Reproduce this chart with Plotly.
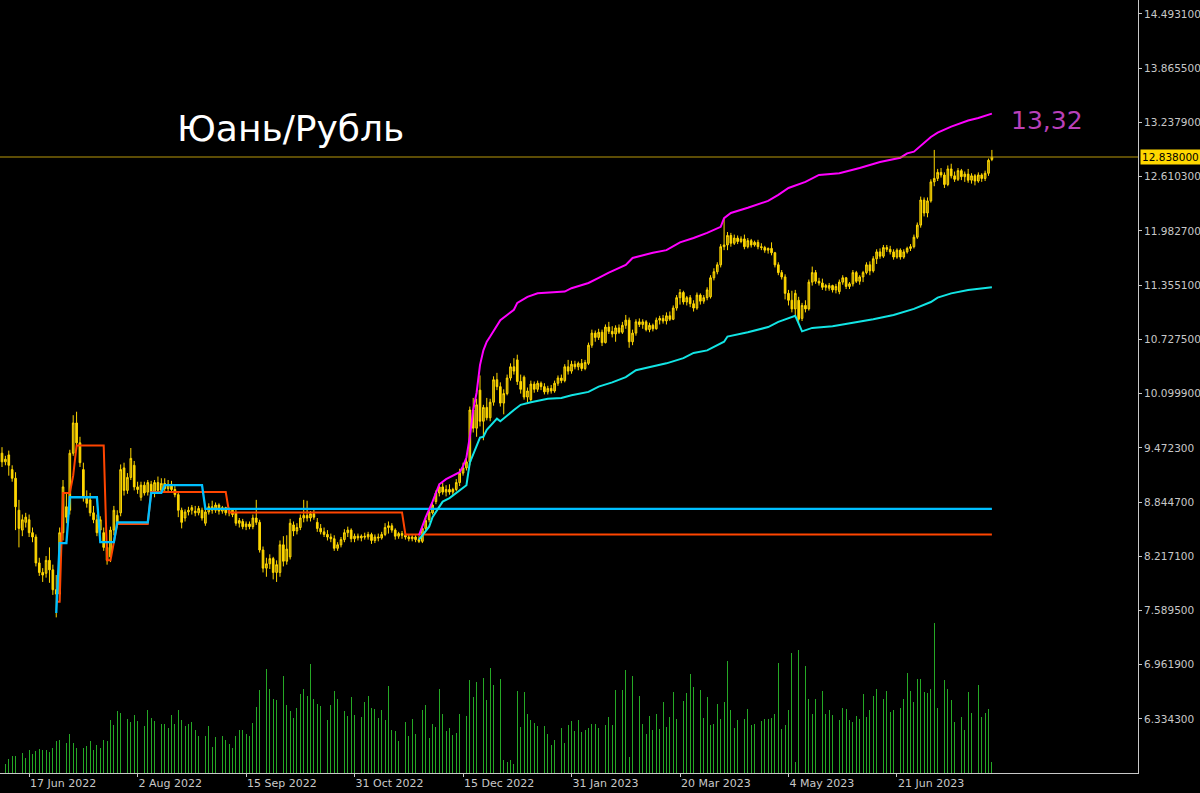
import plotly.graph_objects as go

# ---------------- data (daily CNY/RUB bars) ----------------
opens = [
    9.41, 9.31, 9.39, 9.22, 9.12, 8.75, 8.52, 8.61, 8.64, 8.49,
    8.44, 8.14, 8.03, 8.02, 8.17, 8.06, 7.83, 7.78, 8.49, 8.79,
    8.75, 9.41, 9.76, 9.53, 9.22, 8.90, 8.87, 8.72, 8.64, 8.52,
    8.49, 8.32, 8.21, 8.52, 8.69, 8.72, 9.24, 8.98, 9.13, 9.27,
    9.02, 8.90, 9.04, 8.96, 9.05, 8.95, 9.07, 8.98, 9.06, 9.00,
    9.05, 8.99, 8.93, 8.75, 8.66, 8.73, 8.75, 8.74, 8.72, 8.75,
    8.60, 8.73, 8.79, 8.75, 8.81, 8.74, 8.78, 8.72, 8.75, 8.72,
    8.60, 8.62, 8.56, 8.59, 8.56, 8.66, 8.61, 8.29, 8.08, 8.13,
    8.19, 8.03, 8.03, 8.35, 8.16, 8.21, 8.58, 8.51, 8.55, 8.66,
    8.69, 8.66, 8.71, 8.61, 8.54, 8.50, 8.47, 8.44, 8.42, 8.31,
    8.35, 8.41, 8.49, 8.52, 8.42, 8.45, 8.43, 8.45, 8.44, 8.47,
    8.40, 8.44, 8.43, 8.47, 8.55, 8.57, 8.52, 8.45, 8.48, 8.46,
    8.44, 8.42, 8.44, 8.41, 8.39, 8.54, 8.64, 8.72, 8.85, 8.95,
    9.02, 8.96, 8.99, 8.96, 8.99, 9.07, 9.18, 9.24, 9.31, 9.91,
    9.70, 10.14, 9.78, 9.94, 9.82, 10.00, 10.26, 10.18, 9.99, 10.10,
    10.28, 10.41, 10.49, 10.24, 10.29, 10.06, 10.03, 10.21, 10.15, 10.22,
    10.18, 10.12, 10.16, 10.13, 10.22, 10.28, 10.25, 10.41, 10.36, 10.44,
    10.41, 10.45, 10.39, 10.45, 10.66, 10.80, 10.75, 10.81, 10.69, 10.87,
    10.82, 10.79, 10.86, 10.81, 10.89, 10.95, 10.70, 10.80, 10.93, 10.90,
    10.93, 10.84, 10.89, 10.85, 10.95, 10.97, 10.94, 11.00, 10.96, 11.09,
    11.21, 11.27, 11.16, 11.21, 11.14, 11.09, 11.24, 11.17, 11.21, 11.22,
    11.44, 11.51, 11.59, 11.80, 11.82, 11.93, 11.84, 11.90, 11.86, 11.89,
    11.80, 11.87, 11.82, 11.85, 11.80, 11.79, 11.76, 11.78, 11.73, 11.59,
    11.50, 11.45, 11.26, 11.18, 11.08, 11.18, 10.97, 11.12, 11.08, 11.39,
    11.50, 11.40, 11.38, 11.33, 11.32, 11.35, 11.30, 11.28, 11.39, 11.44,
    11.34, 11.37, 11.50, 11.40, 11.45, 11.50, 11.59, 11.52, 11.66, 11.74,
    11.69, 11.79, 11.77, 11.74, 11.68, 11.76, 11.68, 11.74, 11.78, 11.80,
    11.91, 12.05, 12.34, 12.19, 12.33, 12.55, 12.59, 12.66, 12.63, 12.52,
    12.70, 12.62, 12.58, 12.68, 12.61, 12.64, 12.57, 12.62, 12.56, 12.63,
    12.59, 12.65, 12.81,
]
highs = [
    9.48, 9.38, 9.44, 9.27, 9.19, 8.87, 8.70, 8.72, 8.70, 8.55,
    8.47, 8.20, 8.08, 8.22, 8.32, 8.12, 8.00, 8.55, 9.10, 8.95,
    9.45, 9.85, 9.89, 9.60, 9.30, 8.98, 8.95, 8.80, 8.70, 8.68,
    8.55, 8.38, 8.56, 8.80, 8.75, 9.28, 9.30, 9.18, 9.47, 9.32,
    9.08, 9.08, 9.08, 9.10, 9.09, 9.10, 9.14, 9.12, 9.12, 9.10,
    9.09, 9.03, 8.96, 8.78, 8.76, 8.79, 8.81, 8.80, 8.80, 8.78,
    8.81, 8.83, 8.86, 8.84, 8.83, 8.80, 8.79, 8.78, 8.77, 8.76,
    8.66, 8.65, 8.62, 8.62, 8.70, 8.87, 8.64, 8.33, 8.20, 8.24,
    8.21, 8.17, 8.40, 8.45, 8.46, 8.65, 8.62, 8.60, 8.70, 8.87,
    8.86, 8.74, 8.76, 8.66, 8.59, 8.55, 8.52, 8.48, 8.46, 8.38,
    8.44, 8.53, 8.56, 8.54, 8.48, 8.48, 8.47, 8.49, 8.50, 8.49,
    8.47, 8.48, 8.50, 8.60, 8.62, 8.60, 8.54, 8.50, 8.51, 8.49,
    8.47, 8.46, 8.46, 8.45, 8.56, 8.66, 8.76, 8.84, 8.98, 9.06,
    9.07, 9.04, 9.05, 9.01, 9.11, 9.23, 9.30, 9.36, 9.95, 10.05,
    10.04, 10.31, 9.97, 10.05, 10.04, 10.30, 10.34, 10.23, 10.15, 10.32,
    10.45, 10.51, 10.55, 10.32, 10.31, 10.17, 10.25, 10.24, 10.25, 10.24,
    10.22, 10.19, 10.20, 10.25, 10.31, 10.32, 10.44, 10.49, 10.48, 10.48,
    10.47, 10.50, 10.49, 10.69, 10.84, 10.83, 10.85, 10.84, 10.90, 10.93,
    10.88, 10.89, 10.90, 10.93, 11.01, 10.98, 10.84, 10.96, 10.97, 10.96,
    10.95, 10.92, 10.91, 10.98, 11.00, 11.01, 11.04, 11.05, 11.12, 11.24,
    11.31, 11.29, 11.23, 11.24, 11.18, 11.27, 11.26, 11.24, 11.33, 11.47,
    11.55, 11.62, 11.83, 12.13, 11.97, 11.96, 11.94, 11.93, 11.92, 11.94,
    11.90, 11.89, 11.87, 11.88, 11.84, 11.81, 11.79, 11.85, 11.74, 11.62,
    11.53, 11.48, 11.30, 11.29, 11.30, 11.22, 11.15, 11.18, 11.42, 11.57,
    11.53, 11.44, 11.43, 11.37, 11.38, 11.36, 11.37, 11.42, 11.47, 11.45,
    11.39, 11.53, 11.52, 11.47, 11.52, 11.62, 11.63, 11.69, 11.77, 11.78,
    11.82, 11.82, 11.81, 11.77, 11.78, 11.78, 11.77, 11.80, 11.83, 11.94,
    12.08, 12.38, 12.37, 12.37, 12.58, 12.92, 12.70, 12.71, 12.66, 12.74,
    12.76, 12.67, 12.71, 12.70, 12.67, 12.70, 12.65, 12.64, 12.66, 12.65,
    12.68, 12.82, 12.92,
]
lows = [
    9.25, 9.27, 9.15, 9.08, 8.52, 8.32, 8.45, 8.55, 8.44, 8.38,
    8.10, 7.99, 7.92, 7.97, 7.91, 7.77, 7.51, 7.70, 8.40, 8.60,
    8.70, 9.38, 9.45, 9.25, 8.85, 8.78, 8.68, 8.60, 8.45, 8.48,
    8.28, 8.12, 8.15, 8.46, 8.55, 8.68, 8.92, 8.94, 9.10, 8.98,
    8.94, 8.86, 8.92, 8.92, 8.92, 8.90, 8.95, 8.95, 8.97, 8.96,
    8.95, 8.90, 8.67, 8.54, 8.62, 8.69, 8.70, 8.68, 8.69, 8.63,
    8.57, 8.70, 8.71, 8.72, 8.70, 8.71, 8.69, 8.68, 8.67, 8.57,
    8.55, 8.53, 8.52, 8.53, 8.53, 8.58, 8.26, 8.03, 7.98, 8.07,
    7.95, 7.92, 7.98, 8.10, 8.12, 8.18, 8.45, 8.47, 8.52, 8.61,
    8.62, 8.62, 8.64, 8.50, 8.47, 8.44, 8.40, 8.38, 8.28, 8.28,
    8.32, 8.38, 8.44, 8.38, 8.38, 8.40, 8.39, 8.41, 8.41, 8.36,
    8.37, 8.39, 8.41, 8.45, 8.48, 8.49, 8.41, 8.42, 8.42, 8.41,
    8.39, 8.39, 8.38, 8.37, 8.37, 8.52, 8.61, 8.70, 8.82, 8.91,
    8.93, 8.91, 8.93, 8.92, 8.97, 9.03, 9.15, 9.21, 9.27, 9.65,
    9.60, 9.72, 9.56, 9.79, 9.78, 9.96, 10.14, 9.95, 9.86, 10.08,
    10.25, 10.32, 10.20, 10.10, 10.03, 10.00, 10.01, 10.11, 10.12, 10.14,
    10.09, 10.09, 10.10, 10.11, 10.19, 10.22, 10.23, 10.32, 10.33, 10.38,
    10.37, 10.36, 10.37, 10.43, 10.63, 10.70, 10.72, 10.65, 10.68, 10.79,
    10.75, 10.70, 10.79, 10.79, 10.85, 10.63, 10.66, 10.77, 10.87, 10.85,
    10.82, 10.81, 10.82, 10.84, 10.90, 10.91, 10.90, 10.94, 10.95, 11.06,
    11.13, 11.13, 11.12, 11.10, 11.05, 11.07, 11.13, 11.14, 11.18, 11.20,
    11.41, 11.48, 11.56, 11.76, 11.76, 11.80, 11.82, 11.83, 11.84, 11.77,
    11.78, 11.79, 11.80, 11.77, 11.76, 11.73, 11.72, 11.70, 11.56, 11.47,
    11.42, 11.19, 11.12, 11.04, 10.99, 10.92, 10.94, 11.04, 11.06, 11.35,
    11.37, 11.35, 11.30, 11.29, 11.29, 11.27, 11.26, 11.25, 11.36, 11.31,
    11.31, 11.34, 11.38, 11.36, 11.39, 11.48, 11.47, 11.50, 11.60, 11.66,
    11.67, 11.74, 11.71, 11.65, 11.66, 11.65, 11.66, 11.72, 11.75, 11.78,
    11.89, 12.02, 12.15, 12.14, 12.31, 12.50, 12.56, 12.60, 12.48, 12.50,
    12.59, 12.55, 12.56, 12.57, 12.55, 12.54, 12.53, 12.51, 12.54, 12.55,
    12.56, 12.62, 12.79,
]
closes = [
    9.31, 9.34, 9.27, 9.12, 8.79, 8.54, 8.64, 8.67, 8.49, 8.44,
    8.14, 8.03, 8.00, 8.17, 8.06, 7.83, 7.78, 8.49, 9.02, 8.67,
    9.41, 9.76, 9.53, 9.30, 8.90, 8.83, 8.72, 8.64, 8.49, 8.64,
    8.32, 8.17, 8.52, 8.75, 8.61, 9.22, 8.98, 9.13, 9.35, 9.02,
    8.99, 9.04, 8.95, 9.07, 8.95, 9.07, 8.98, 9.06, 9.00, 9.05,
    8.99, 8.93, 8.75, 8.61, 8.73, 8.75, 8.78, 8.72, 8.77, 8.66,
    8.73, 8.79, 8.75, 8.81, 8.74, 8.78, 8.72, 8.75, 8.70, 8.60,
    8.63, 8.56, 8.59, 8.56, 8.66, 8.61, 8.29, 8.08, 8.13, 8.19,
    8.03, 8.12, 8.35, 8.16, 8.30, 8.60, 8.51, 8.55, 8.66, 8.69,
    8.66, 8.71, 8.67, 8.54, 8.50, 8.47, 8.44, 8.42, 8.31, 8.35,
    8.41, 8.49, 8.52, 8.42, 8.45, 8.43, 8.45, 8.44, 8.47, 8.40,
    8.44, 8.43, 8.47, 8.55, 8.57, 8.52, 8.45, 8.48, 8.46, 8.44,
    8.42, 8.44, 8.41, 8.39, 8.54, 8.63, 8.73, 8.81, 8.95, 9.02,
    8.96, 8.99, 8.96, 8.99, 9.07, 9.18, 9.24, 9.31, 9.91, 9.70,
    9.97, 9.78, 9.94, 9.82, 10.00, 10.26, 10.18, 9.99, 10.10, 10.28,
    10.41, 10.36, 10.24, 10.15, 10.06, 10.13, 10.21, 10.15, 10.22, 10.18,
    10.12, 10.16, 10.13, 10.22, 10.28, 10.25, 10.41, 10.36, 10.44, 10.41,
    10.45, 10.39, 10.46, 10.66, 10.80, 10.75, 10.81, 10.69, 10.87, 10.82,
    10.79, 10.86, 10.81, 10.89, 10.95, 10.70, 10.80, 10.93, 10.90, 10.93,
    10.84, 10.89, 10.85, 10.95, 10.97, 10.94, 11.00, 10.96, 11.09, 11.21,
    11.27, 11.16, 11.21, 11.14, 11.09, 11.24, 11.17, 11.21, 11.30, 11.44,
    11.51, 11.59, 11.80, 11.82, 11.93, 11.84, 11.90, 11.86, 11.89, 11.80,
    11.87, 11.82, 11.85, 11.80, 11.79, 11.76, 11.78, 11.73, 11.59, 11.50,
    11.45, 11.26, 11.18, 11.08, 11.26, 10.96, 11.12, 11.08, 11.39, 11.50,
    11.40, 11.38, 11.33, 11.35, 11.35, 11.30, 11.34, 11.39, 11.44, 11.34,
    11.37, 11.50, 11.40, 11.45, 11.50, 11.59, 11.52, 11.66, 11.74, 11.69,
    11.79, 11.77, 11.74, 11.68, 11.76, 11.68, 11.74, 11.78, 11.80, 11.91,
    12.05, 12.34, 12.19, 12.33, 12.55, 12.59, 12.66, 12.63, 12.52, 12.70,
    12.62, 12.58, 12.68, 12.61, 12.64, 12.57, 12.62, 12.56, 12.63, 12.59,
    12.65, 12.80, 12.838,
]
volumes = [
    14, 9, 14, 17, 17, 28, 20, 15, 23, 19,
    22, 24, 23, 23, 21, 25, 32, 33, 30, 30,
    39, 30, 25, 20, 25, 27, 32, 23, 28, 25,
    33, 32, 53, 48, 62, 60, 62, 54, 51, 58,
    52, 45, 47, 63, 55, 52, 48, 49, 49, 45,
    58, 49, 63, 53, 47, 49, 51, 43, 37, 37,
    37, 47, 26, 36, 22, 37, 33, 29, 25, 37,
    43, 43, 39, 37, 50, 66, 83, 82, 104, 84,
    74, 73, 96, 97, 68, 62, 55, 65, 79, 84,
    77, 109, 74, 69, 67, 59, 53, 68, 82, 74,
    67, 62, 57, 76, 58, 48, 56, 71, 77, 65,
    64, 55, 63, 53, 87, 43, 42, 32, 41, 51,
    37, 54, 39, 43, 63, 68, 35, 49, 46, 84,
    59, 42, 45, 38, 40, 59, 67, 57, 93, 76,
    91, 127, 95, 73, 105, 88, 117, 94, 13, 11,
    13, 9, 82, 46, 81, 59, 53, 50, 47, 45,
    47, 39, 28, 33, 35, 45, 30, 48, 52, 42,
    53, 41, 43, 45, 49, 49, 45,
    45, 48, 56, 48, 83, 75, 83, 103, 16, 97,
    73, 77, 49, 39, 57, 43, 59, 44, 71, 46,
    56, 81, 54, 83, 72, 80, 99, 86, 76, 83,
    55, 76, 48, 49, 69, 54, 71, 112, 63, 45,
    53, 62, 54, 64, 48, 49, 59, 52, 54, 54,
    55, 59, 110, 44, 48, 63, 120, 11, 123, 105,
    107, 74, 59, 74, 73, 82, 59, 63, 58, 63,
    53, 65, 64, 53, 51, 57, 54, 79, 56, 63,
    77, 84, 90, 74, 82, 61, 63, 70, 65, 74,
    100, 82, 71, 94, 94, 81, 80, 84, 150, 65,
    74, 93, 84, 73, 51, 50, 56, 43, 81, 60,
    80, 88, 56, 60, 64, 11,
]

# indicator lines: vertices as (bar index, price)
red_idx = [16, 17, 18, 20, 21, 22, 30, 31, 32, 33, 34, 43, 44, 66, 67, 118, 119, 292]
red_val = [7.69, 7.69, 8.95, 8.95, 9.15, 9.50, 9.50, 8.17, 8.17, 8.40, 8.59, 8.59, 8.96, 8.96, 8.725, 8.725, 8.47, 8.47]

blue_idx = [16, 17, 19, 20, 28, 29, 33, 34, 43, 44, 47, 48, 59, 60, 292]
blue_val = [7.56, 8.37, 8.37, 8.90, 8.90, 8.38, 8.38, 8.61, 8.61, 8.95, 8.95, 9.04, 9.04, 8.765, 8.765]

upper_idx = [123, 125, 127, 129, 131, 133, 135, 136, 137, 138, 139, 140, 141, 142, 143, 144,
             146, 147, 149, 151, 152, 155, 158, 166, 168, 173, 176, 179, 184, 186, 192, 196,
             200, 204, 208, 212, 213, 215, 220, 226, 229, 232, 237, 241, 247, 253, 259, 265,
             267, 269, 274, 276, 280, 285, 288, 292]
upper_val = [8.46, 8.67, 8.85, 9.05, 9.11, 9.15, 9.19, 9.26, 9.36, 9.60, 9.91, 10.11, 10.43, 10.60, 10.70, 10.76,
             10.88, 10.95, 11.01, 11.07, 11.15, 11.22, 11.26, 11.28, 11.32, 11.38, 11.44, 11.50, 11.59, 11.67, 11.73, 11.76,
             11.85, 11.90, 11.96, 12.03, 12.13, 12.19, 12.25, 12.33, 12.40, 12.48, 12.55, 12.63, 12.65, 12.71, 12.78, 12.83,
             12.88, 12.90, 13.07, 13.12, 13.19, 13.26, 13.29, 13.34]

lower_idx = [123, 124, 126, 127, 129, 130, 132, 134, 136, 137, 138, 140, 141, 142, 143, 146,
             147, 151, 153, 156, 161, 165, 168, 173, 176, 180, 184, 187, 192, 196, 201, 204,
             208, 210, 213, 214, 220, 226, 229, 234, 236, 239, 245, 251, 257, 263, 269, 274,
             276, 280, 285, 292]
lower_val = [8.41, 8.46, 8.56, 8.67, 8.79, 8.85, 8.89, 8.95, 9.01, 9.04, 9.30, 9.48, 9.59, 9.60, 9.68, 9.81,
             9.78, 9.91, 9.97, 10.00, 10.04, 10.05, 10.08, 10.12, 10.18, 10.23, 10.29, 10.37, 10.41, 10.45, 10.51, 10.57,
             10.60, 10.64, 10.70, 10.76, 10.81, 10.87, 10.93, 11.00, 10.82, 10.86, 10.88, 10.92, 10.96, 11.01, 11.08, 11.16,
             11.21, 11.26, 11.30, 11.33]

date_tick_bars = [8, 40, 72, 104, 136, 168, 200, 232, 264]
date_tick_labels = ["17 Jun 2022", "2 Aug 2022", "15 Sep 2022", "31 Oct 2022", "15 Dec 2022",
                    "31 Jan 2023", "20 Mar 2023", "4 May 2023", "21 Jun 2023"]

price_ticks = [6.3343, 6.9619, 7.5895, 8.2171, 8.8447, 9.4723, 10.0999, 10.7275,
               11.3551, 11.9827, 12.6103, 13.2379, 13.8655, 14.4931]

last_price = 12.838
chart_title = "Юань/Рубль"
upper_note = "13,32"

bar_index = list(range(len(closes)))

# ---------------- figure ----------------
AXIS_COL = "#c8c8c8"
FONT = "DejaVu Sans"

fig = go.Figure()

fig.add_trace(go.Bar(
    x=bar_index, y=volumes, yaxis="y2", width=0.26,
    marker=dict(color="#25a825", line=dict(width=0)),
    hoverinfo="skip", showlegend=False,
))

fig.add_trace(go.Candlestick(
    x=bar_index, open=opens, high=highs, low=lows, close=closes,
    increasing=dict(fillcolor="#a08800", line=dict(color="#ffd700", width=1)),
    decreasing=dict(fillcolor="#ffd700", line=dict(color="#ffd700", width=1)),
    whiskerwidth=0, showlegend=False,
))

for xs, ys, col, w in [
    (red_idx, red_val, "#ff4500", 2),
    (blue_idx, blue_val, "#00bfff", 2.3),
    (upper_idx, upper_val, "#ff00ff", 2),
    (lower_idx, lower_val, "#12e5e5", 2),
]:
    fig.add_trace(go.Scatter(x=xs, y=ys, mode="lines", line=dict(color=col, width=w),
                             hoverinfo="skip", showlegend=False))

fig.add_shape(type="line", xref="paper", x0=0, x1=1, yref="y", y0=last_price, y1=last_price,
              line=dict(color="#b8980a", width=1), layer="above")

fig.add_annotation(xref="paper", x=1, xanchor="left", xshift=2, yref="y", y=last_price, yanchor="middle",
                   text=f"{last_price:.6f}", showarrow=False, bgcolor="#ffd700",
                   font=dict(family=FONT, size=10.5, color="#000000"), borderpad=1)

fig.add_annotation(xref="paper", yref="paper", x=0.2557, y=0.834, xanchor="center", yanchor="middle",
                   text=chart_title, showarrow=False,
                   font=dict(family="DejaVu Sans", size=36, color="#ffffff"))

fig.add_annotation(xref="paper", yref="paper", x=0.920, y=0.8435, xanchor="center", yanchor="middle",
                   text=upper_note, showarrow=False,
                   font=dict(family="DejaVu Sans", size=25, color="#b940b9"))

fig.update_layout(
    width=1200, height=793,
    margin=dict(l=0, r=62, t=0, b=20, autoexpand=False),
    paper_bgcolor="#000000", plot_bgcolor="#000000",
    bargap=0, showlegend=False, hovermode=False,
    xaxis=dict(
        range=[-0.59, 335.1], tickmode="array", tickvals=date_tick_bars, ticktext=date_tick_labels,
        ticks="outside", ticklen=3, tickcolor=AXIS_COL, showline=True, linecolor=AXIS_COL, linewidth=1,
        showgrid=False, zeroline=False, ticklabelposition="outside right",
        tickfont=dict(family=FONT, size=11, color=AXIS_COL), rangeslider=dict(visible=False),
    ),
    yaxis=dict(
        side="right", range=[5.709, 14.655], tickmode="array", tickvals=price_ticks,
        ticktext=[f"{v:.6f}" for v in price_ticks], ticks="outside", ticklen=3, tickcolor=AXIS_COL,
        showline=True, linecolor=AXIS_COL, linewidth=1, showgrid=False, zeroline=False,
        tickfont=dict(family=FONT, size=10.5, color=AXIS_COL),
    ),
    yaxis2=dict(overlaying="y", range=[0, 773], visible=False),
)

fig.write_html(
    "out.html",
    config={"displayModeBar": False, "staticPlot": True},
    post_script="document.body.style.margin='0';document.body.style.overflow='hidden';",
)
